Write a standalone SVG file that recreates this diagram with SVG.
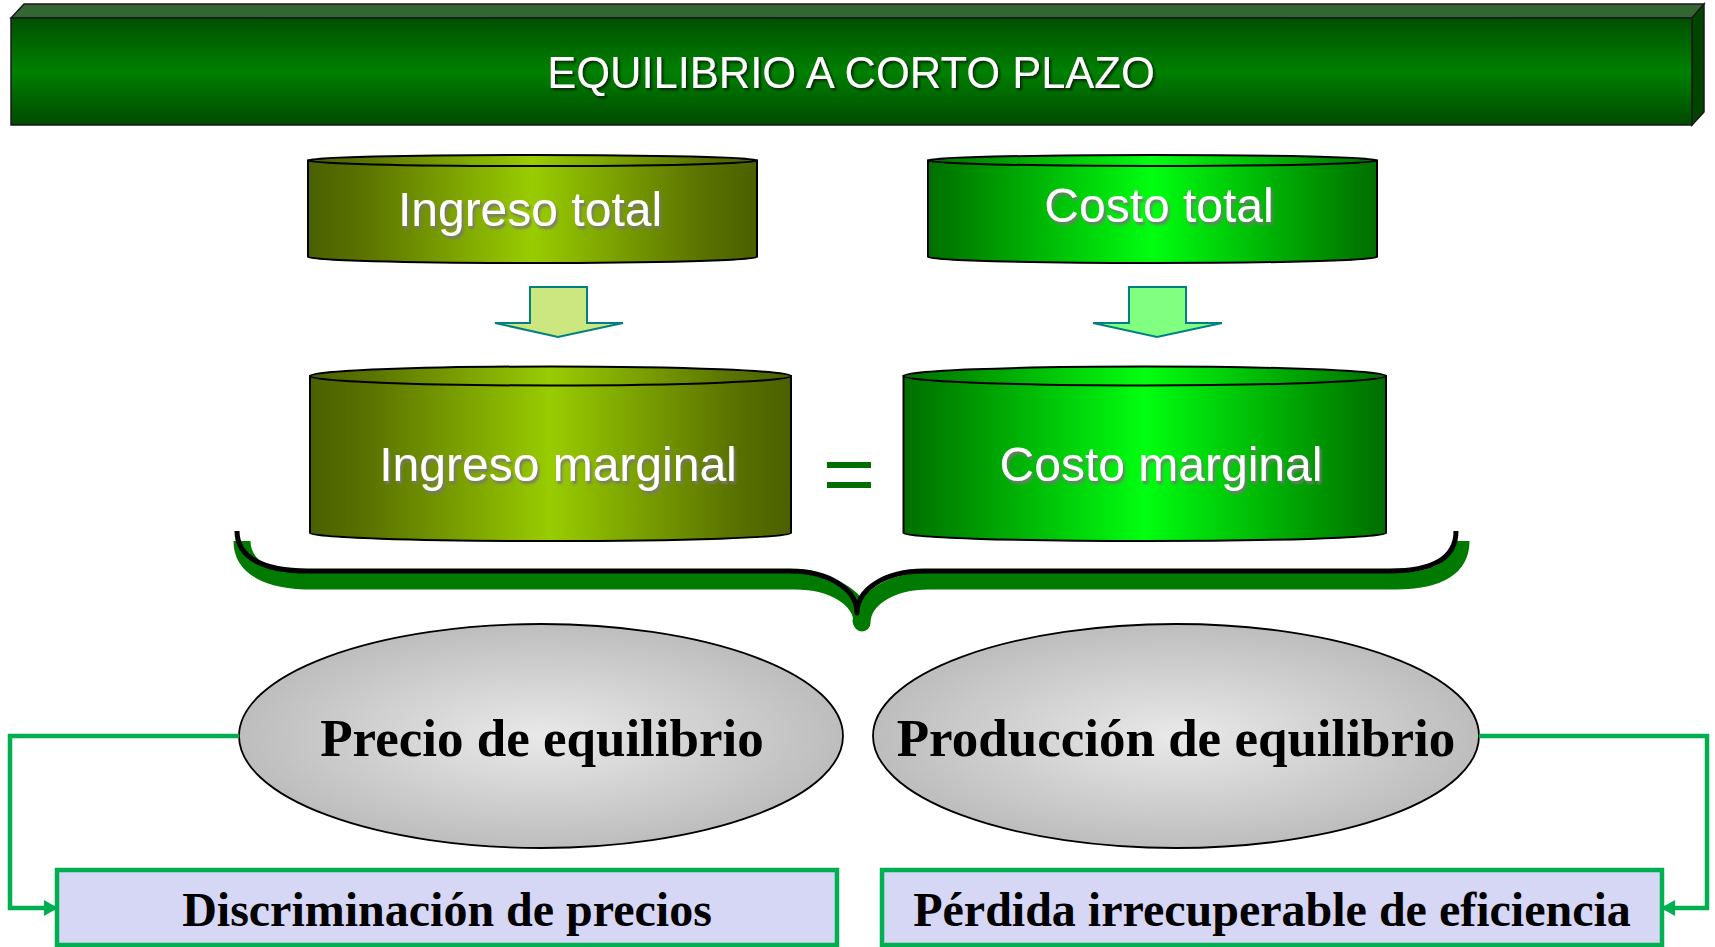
<svg xmlns="http://www.w3.org/2000/svg" width="1715" height="947" viewBox="0 0 1715 947">
<defs>
<linearGradient id="gTitle" x1="0" y1="0" x2="0" y2="1">
<stop offset="0" stop-color="#004f00"/><stop offset="0.5" stop-color="#008000"/><stop offset="1" stop-color="#004a00"/>
</linearGradient>
<linearGradient id="gOlive" x1="0" y1="0" x2="1" y2="0">
<stop offset="0" stop-color="#4a6000"/><stop offset="0.12" stop-color="#5a7200"/><stop offset="0.5" stop-color="#99cc00"/><stop offset="0.88" stop-color="#5a7200"/><stop offset="1" stop-color="#4a6000"/>
</linearGradient>
<linearGradient id="gGreen" x1="0" y1="0" x2="1" y2="0">
<stop offset="0" stop-color="#006e00"/><stop offset="0.12" stop-color="#009000"/><stop offset="0.5" stop-color="#00ff10"/><stop offset="0.88" stop-color="#009000"/><stop offset="1" stop-color="#006e00"/>
</linearGradient>
<radialGradient id="gGray" cx="0.5" cy="0.5" r="0.5">
<stop offset="0" stop-color="#e9e9e9"/><stop offset="1" stop-color="#bdbdbd"/>
</radialGradient>
<filter id="shGray" x="-10%" y="-30%" width="120%" height="160%">
<feDropShadow dx="2" dy="3" stdDeviation="1.2" flood-color="#777" flood-opacity="0.9"/>
</filter>
<filter id="shDark" x="-10%" y="-30%" width="120%" height="160%">
<feDropShadow dx="2" dy="2" stdDeviation="1" flood-color="#111" flood-opacity="0.8"/>
</filter>
<marker id="arr" markerUnits="userSpaceOnUse" markerWidth="14" markerHeight="16" refX="13" refY="8" orient="auto">
<path d="M0,0 L14,8 L0,16 Z" fill="#00b050"/>
</marker>
<style>
.cyl{stroke:#000;stroke-width:2}
.ctext{font-family:"Liberation Sans",Arial,sans-serif;font-size:48px;fill:#fff;text-anchor:middle;filter:url(#shGray)}
.etext{font-family:"Liberation Serif","Times New Roman",serif;font-weight:bold;font-size:53px;fill:#000;text-anchor:middle}
.btext{font-family:"Liberation Serif","Times New Roman",serif;font-weight:bold;font-size:48px;fill:#000;text-anchor:middle}
.box{fill:#d6d6f5;stroke:#00b050;stroke-width:4.5}
.conn{fill:none;stroke:#00b050;stroke-width:4.5}
.darr{stroke:#008080;stroke-width:2}
</style>
</defs>
<rect width="1715" height="947" fill="#fff"/>

<g id="title">
<polygon points="11,18 24,4 1704,4 1692,18" fill="#336633" stroke="#1a1a1a" stroke-width="1.5"/>
<polygon points="1692,18 1704,4 1704,112 1692,125" fill="#004400" stroke="#1a1a1a" stroke-width="1.5"/>
<rect x="11" y="18" width="1681" height="107" fill="url(#gTitle)" stroke="#1a1a1a" stroke-width="1.5"/>
<text x="851" y="88" font-family="Liberation Sans,Arial,sans-serif" font-size="43.5" fill="#fff" text-anchor="middle" filter="url(#shDark)">EQUILIBRIO A CORTO PLAZO</text>
</g>

<g id="ingreso-total">
<path class="cyl" d="M308,160.5 L308,257 A224.5,6 0 0 0 757,257 L757,160.5 Z" fill="url(#gOlive)"/>
<ellipse class="cyl" cx="532.5" cy="160.5" rx="224.5" ry="5.5" fill="url(#gOlive)"/>
<text class="ctext" x="530" y="226">Ingreso total</text>
</g>

<g id="costo-total">
<path class="cyl" d="M928,160.5 L928,257 A224.5,6 0 0 0 1377,257 L1377,160.5 Z" fill="url(#gGreen)"/>
<ellipse class="cyl" cx="1152.5" cy="160.5" rx="224.5" ry="5.5" fill="url(#gGreen)"/>
<text class="ctext" x="1159" y="222">Costo total</text>
</g>

<g id="ingreso-marginal">
<path class="cyl" d="M310,376 L310,533 A240.5,8 0 0 0 791,533 L791,376 Z" fill="url(#gOlive)"/>
<ellipse class="cyl" cx="550.5" cy="376" rx="240.5" ry="9.5" fill="url(#gOlive)"/>
<text class="ctext" x="558" y="481">Ingreso marginal</text>
</g>

<g id="igual">
<rect x="827" y="462" width="44" height="6" fill="#006e00"/>
<rect x="827" y="482" width="44" height="6" fill="#006e00"/>
</g>

<g id="costo-marginal">
<path class="cyl" d="M903.5,376 L903.5,533 A241.25,8 0 0 0 1386,533 L1386,376 Z" fill="url(#gGreen)"/>
<ellipse class="cyl" cx="1144.75" cy="376" rx="241.25" ry="9.5" fill="url(#gGreen)"/>
<text class="ctext" x="1161" y="481">Costo marginal</text>
</g>

<g id="llave">
<path d="M237,531 C237,557 262,571 308,571 L790,571 C830,571 857,590 857,613 C857,590 884,571 924,571 L1390,571 C1436,571 1456,556 1456,531" transform="translate(5,10)" fill="none" stroke="#007a00" stroke-width="17" stroke-linejoin="round"/>
<circle cx="861" cy="621" r="8.5" fill="#007a00"/>
<path d="M237,531 C237,557 262,571 308,571 L790,571 C830,571 857,590 857,613 C857,590 884,571 924,571 L1390,571 C1436,571 1456,556 1456,531" fill="none" stroke="#000" stroke-width="5" stroke-linejoin="round"/>
</g>

<g id="precio">
<ellipse cx="541" cy="736" rx="302" ry="112" fill="url(#gGray)" stroke="#000" stroke-width="1.8"/>
<text class="etext" x="542" y="756">Precio de equilibrio</text>
</g>

<g id="produccion">
<ellipse cx="1176" cy="736" rx="303" ry="112" fill="url(#gGray)" stroke="#000" stroke-width="1.8"/>
<text class="etext" x="1176" y="756">Producción de equilibrio</text>
</g>

<g id="discriminacion">
<rect class="box" x="57" y="870" width="780" height="75"/>
<text class="btext" x="447" y="926">Discriminación de precios</text>
</g>

<g id="perdida">
<rect class="box" x="882" y="870" width="780" height="75"/>
<text class="btext" x="1272" y="926">Pérdida irrecuperable de eficiencia</text>
</g>

<g id="connectors">
<path class="darr" d="M530,287 H587 V323 H623 L558,337 L495,323 H530 Z" fill="#cce680"/>
<path class="darr" d="M1129,287 H1186 V323 H1222 L1157,337 L1093,323 H1129 Z" fill="#80ff80"/>
<path class="conn" d="M239,736 H10 V908 H57" marker-end="url(#arr)"/>
<path class="conn" d="M1479,736 H1707 V908 H1662" marker-end="url(#arr)"/>
</g>
</svg>
